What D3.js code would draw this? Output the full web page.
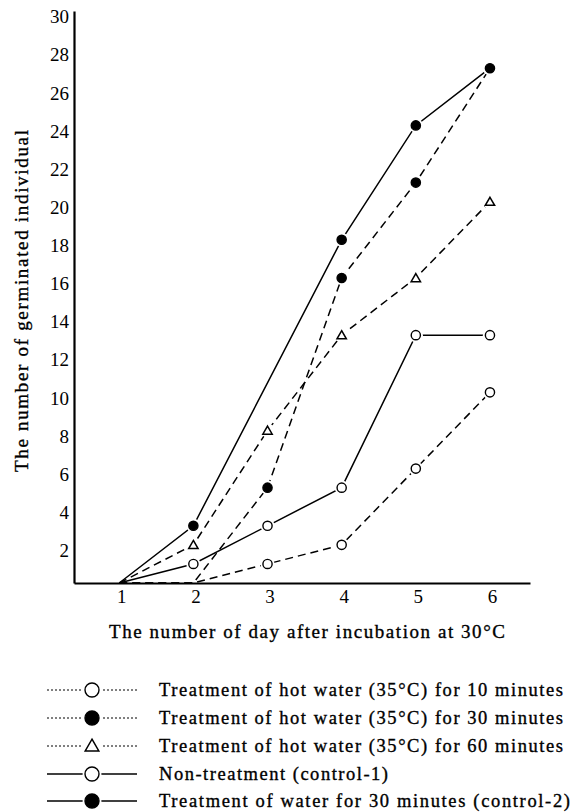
<!DOCTYPE html>
<head>
  <meta charset="utf-8">
  <script src="https://d3js.org/d3.v7.min.js"></script>
<style>
    body {
        margin: 0;
        background: #fff;
    }
    text {
        font-family: "Liberation Serif", "Times New Roman", serif;
        fill: #000;
    }
    .tick text {
        font-size: 19px;
    }
    .label {
        stroke: #000;
        stroke-width: 0.35px;
    }
    .domain {
        stroke: #000;
        stroke-width: 2.2px;
    }
</style>
</head>

<body>
  <script>

// data
var days = [1, 2, 3, 4, 5, 6];
var yTicks = [2, 4, 6, 8, 10, 12, 14, 16, 18, 20, 22, 24, 26, 28, 30];

var hot10 = [0, 0, 1, 2, 6, 10];
var hot30 = [0, 0, 5, 16, 21, 27];
var hot60 = [0, 2, 8, 13, 16, 20];
var control1 = [0, 1, 3, 5, 13, 13];
var control2 = [0, 3, null, 18, 24, 27];

var seriesNames = [
    "Treatment of hot water (35\u00b0C) for 10 minutes",
    "Treatment of hot water (35\u00b0C) for 30 minutes",
    "Treatment of hot water (35\u00b0C) for 60 minutes",
    "Non-treatment (control-1)",
    "Treatment of water for 30 minutes (control-2)"
];

var series = [
    {name: seriesNames[0], values: hot10, dashed: true, marker: "open"},
    {name: seriesNames[1], values: hot30, dashed: true, marker: "filled"},
    {name: seriesNames[2], values: hot60, dashed: true, marker: "triangle"},
    {name: seriesNames[3], values: control1, dashed: false, marker: "open"},
    {name: seriesNames[4], values: control2, dashed: false, marker: "filled"}
];

var width = 573;
var height = 812;

var svg = d3.select("body")
    .append("svg")
    .attr("width", width)
    .attr("height", height);

var x = d3.scaleLinear()
    .domain([0.39, 6.54])
    .range([74, 530]);

var y = d3.scaleLinear()
    .domain([0, 30])
    .range([583, 11]);

// axes
var yAxis = svg.append("g")
    .attr("transform", "translate(74,0)")
    .call(d3.axisLeft(y).tickValues(yTicks).tickFormat(d3.format("d")).tickSize(0).tickPadding(5));
yAxis.selectAll(".tick text").attr("dy", "0.62em");

var xAxis = svg.append("g")
    .attr("transform", "translate(0,583)")
    .call(d3.axisBottom(x).tickValues(days).tickFormat(d3.format("d")).tickSize(0).tickPadding(7));
xAxis.selectAll(".tick text").attr("dx", "2");

// axis titles
svg.append("text")
    .attr("class", "label")
    .attr("transform", "translate(28,301) rotate(-90)")
    .attr("text-anchor", "middle")
    .attr("textLength", 342)
    .attr("lengthAdjust", "spacing")
    .style("font-size", "19px")
    .text("The number of germinated individual");

svg.append("text")
    .attr("class", "label")
    .attr("x", 109)
    .attr("y", 638)
    .attr("textLength", 396)
    .attr("lengthAdjust", "spacing")
    .style("font-size", "19px")
    .text("The number of day after incubation at 30\u00b0C");

// lines
var line = d3.line()
    .x(function (d) { return x(d.day); })
    .y(function (d) { return y(d.value); });

function toPoints(values) {
    var pts = [];
    for (var i = 0; i < values.length; i++) {
        if (values[i] !== null) {
            pts.push({day: days[i], value: values[i]});
        }
    }
    return pts;
}

series.forEach(function (s) {
    svg.append("path")
        .datum(toPoints(s.values))
        .attr("d", line)
        .attr("fill", "none")
        .attr("stroke", "#000")
        .attr("stroke-width", 1.5)
        .attr("stroke-dasharray", s.dashed ? "8,5" : null);
});

function drawMarker(g, type, cx, cy, big) {
    var r = big ? 7 : 4.6;
    // white halo so lines stop short of the marker
    g.append("circle")
        .attr("cx", cx).attr("cy", cy)
        .attr("r", r + 2.5)
        .attr("fill", "#fff");
    if (type === "triangle") {
        g.append("path")
            .attr("d", d3.symbol().type(d3.symbolTriangle).size(big ? 80 : 38)())
            .attr("transform", "translate(" + cx + "," + (cy + 1) + ")")
            .attr("fill", "#fff")
            .attr("stroke", "#000")
            .attr("stroke-width", 1.5);
    } else {
        g.append("circle")
            .attr("cx", cx).attr("cy", cy)
            .attr("r", r)
            .attr("fill", type === "filled" ? "#000" : "#fff")
            .attr("stroke", "#000")
            .attr("stroke-width", 1.4);
    }
}

var markers = svg.append("g");
series.forEach(function (s) {
    toPoints(s.values).forEach(function (p) {
        if (p.value > 0) {
            drawMarker(markers, s.marker, x(p.day), y(p.value), false);
        }
    });
});

// legend
var legendRows = [690, 718, 746, 774, 801];
var legendLengths = [404, 404, 404, 229, 411];

var legend = svg.append("g");
series.forEach(function (s, i) {
    var cy = legendRows[i];
    legend.append("line")
        .attr("x1", 47).attr("x2", 137)
        .attr("y1", cy).attr("y2", cy)
        .attr("stroke", "#000")
        .attr("stroke-width", s.dashed ? 1 : 1.5)
        .attr("stroke-dasharray", s.dashed ? "2,2" : null);
    drawMarker(legend, s.marker, 92, cy, true);
    legend.append("text")
        .attr("class", "label")
        .attr("x", 159)
        .attr("y", cy + 6)
        .attr("textLength", legendLengths[i])
        .attr("lengthAdjust", "spacing")
        .style("font-size", "18.5px")
        .text(s.name);
});

  </script>
</body>
